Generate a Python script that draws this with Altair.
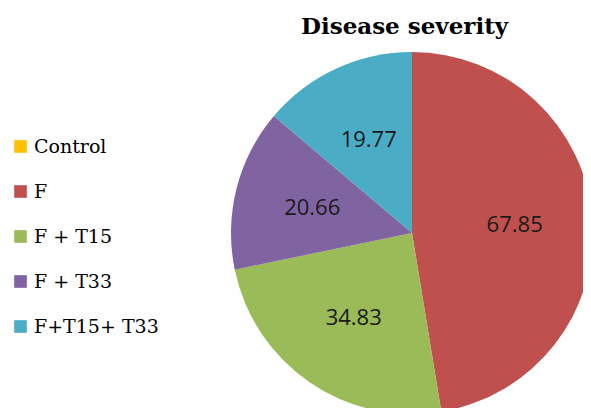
import altair as alt
import pandas as pd

categories = ["Control", "F", "F + T15", "F + T33", "F+T15+ T33"]
values = [0.0, 67.85, 34.83, 20.66, 19.77]
labels = ["", "67.85", "34.83", "20.66", "19.77"]
colors = ["#FFC000", "#C0504D", "#9BBB59", "#8064A2", "#4BACC6"]

df = pd.DataFrame({
    "group": categories,
    "value": values,
    "label": labels,
    "order": list(range(len(categories))),
})

CX, CY, R = 404, 225, 181

base = alt.Chart(df).encode(
    theta=alt.Theta("value:Q", stack=True),
    order=alt.Order("order:Q", sort="ascending"),
)

pie = base.mark_arc(outerRadius=R).encode(
    x=alt.value(CX),
    y=alt.value(CY),
    color=alt.Color(
        "group:N",
        scale=alt.Scale(domain=categories, range=colors),
        sort=categories,
        legend=alt.Legend(
            title=None,
            orient="none",
            legendX=3,
            legendY=129,
            symbolType="square",
            symbolSize=160,
            symbolStrokeWidth=0,
            labelFont="DejaVu Serif",
            labelFontSize=19,
            labelColor="#000000",
            labelOffset=4,
            rowPadding=25,
            padding=0,
        ),
    ),
)

text = base.mark_text(
    radius=103, font="Open Sans", fontSize=22, color="#1a1a1a"
).encode(
    x=alt.value(CX),
    y=alt.value(CY),
    text="label:N",
)

chart = alt.layer(pie, text).properties(
    width=575,
    height=400,
    autosize=alt.AutoSizeParams(type="none"),
    padding=0,
    title=alt.TitleParams(
        "Disease severity",
        anchor="start",
        dx=293,
        offset=-49,
        baseline="alphabetic",
        font="DejaVu Serif",
        fontSize=23,
        fontWeight="bold",
        color="#000000",
    ),
).configure_view(stroke=None)

chart.save("out.html", embed_options={"renderer": "svg", "actions": False})
